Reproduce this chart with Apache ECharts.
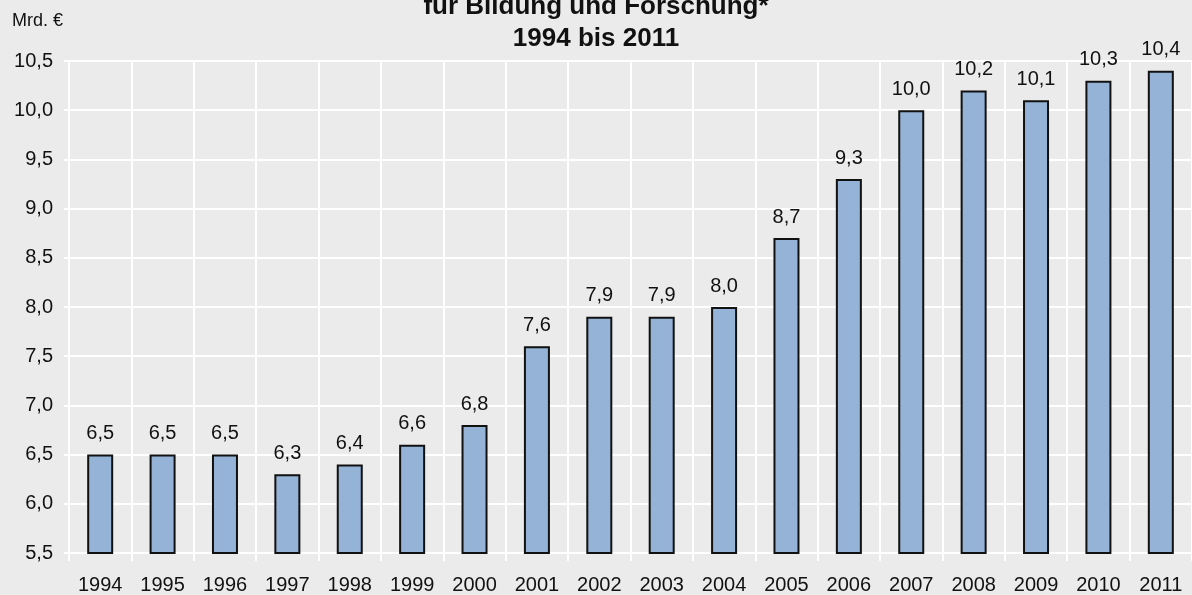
<!DOCTYPE html>
<html>
<head>
<meta charset="utf-8">
<script src="https://cdn.jsdelivr.net/npm/echarts@6/dist/echarts.min.js"></script>
<style>
html, body { margin: 0; padding: 0; background: #EBEBEB; }
#chart { width: 1192px; height: 595px; }
</style>
</head>
<body>
<div id="chart"></div>
<script>
var years = ['1994', '1995', '1996', '1997', '1998', '1999', '2000', '2001', '2002',
    '2003', '2004', '2005', '2006', '2007', '2008', '2009', '2010', '2011'];
var ausgaben = [6.5, 6.5, 6.5, 6.3, 6.4, 6.6, 6.8, 7.6, 7.9, 7.9, 8.0, 8.7, 9.3, 10.0, 10.2, 10.1, 10.3, 10.4];
var yMin = 5.5, yMax = 10.5, yStep = 0.5;

var font = '"Liberation Sans", Arial, sans-serif';
function fmt(v) { return Number(v).toFixed(1).replace('.', ','); }

var chart = echarts.init(document.getElementById('chart'));
var option = {
    backgroundColor: '#EBEBEB',
    animation: false,
    textStyle: { fontFamily: font },
    title: {
        text: 'für Bildung und Forschung*\n1994 bis 2011',
        left: 'center',
        top: -14,
        textStyle: { fontFamily: font, fontSize: 26, fontWeight: 'bold', color: '#111', lineHeight: 32 }
    },
    graphic: [{
        type: 'text', left: 12, top: 12,
        style: { text: 'Mrd. €', font: '18px ' + font, fill: '#111' }
    }],
    grid: { left: 69, top: 61, width: 1130, height: 493 },
    xAxis: {
        type: 'category',
        data: years,
        axisLine: { lineStyle: { color: '#fff', width: 2 } },
        axisTick: { show: true, length: 8, lineStyle: { color: '#fff', width: 2 } },
        axisLabel: { color: '#111', fontSize: 20, margin: 22, fontFamily: font },
        splitLine: { show: true, lineStyle: { color: '#fff', width: 2 } }
    },
    yAxis: {
        type: 'value',
        min: yMin, max: yMax, interval: yStep,
        axisLine: { show: true, lineStyle: { color: '#fff', width: 2 } },
        axisTick: { show: true, length: 5, lineStyle: { color: '#fff', width: 2 } },
        axisLabel: { color: '#111', fontSize: 20, margin: 16, fontFamily: font, formatter: fmt },
        splitLine: { show: true, lineStyle: { color: '#fff', width: 2 } }
    },
    series: [{
        type: 'bar',
        data: ausgaben,
        barWidth: 26,
        itemStyle: { color: '#95B3D7', borderColor: '#111', borderWidth: 2 },
        label: {
            show: true, position: 'top', distance: 11,
            color: '#111', fontSize: 20, fontFamily: font,
            formatter: function (p) { return fmt(p.value); }
        }
    }]
};
chart.setOption(option);
</script>
</body>
</html>
